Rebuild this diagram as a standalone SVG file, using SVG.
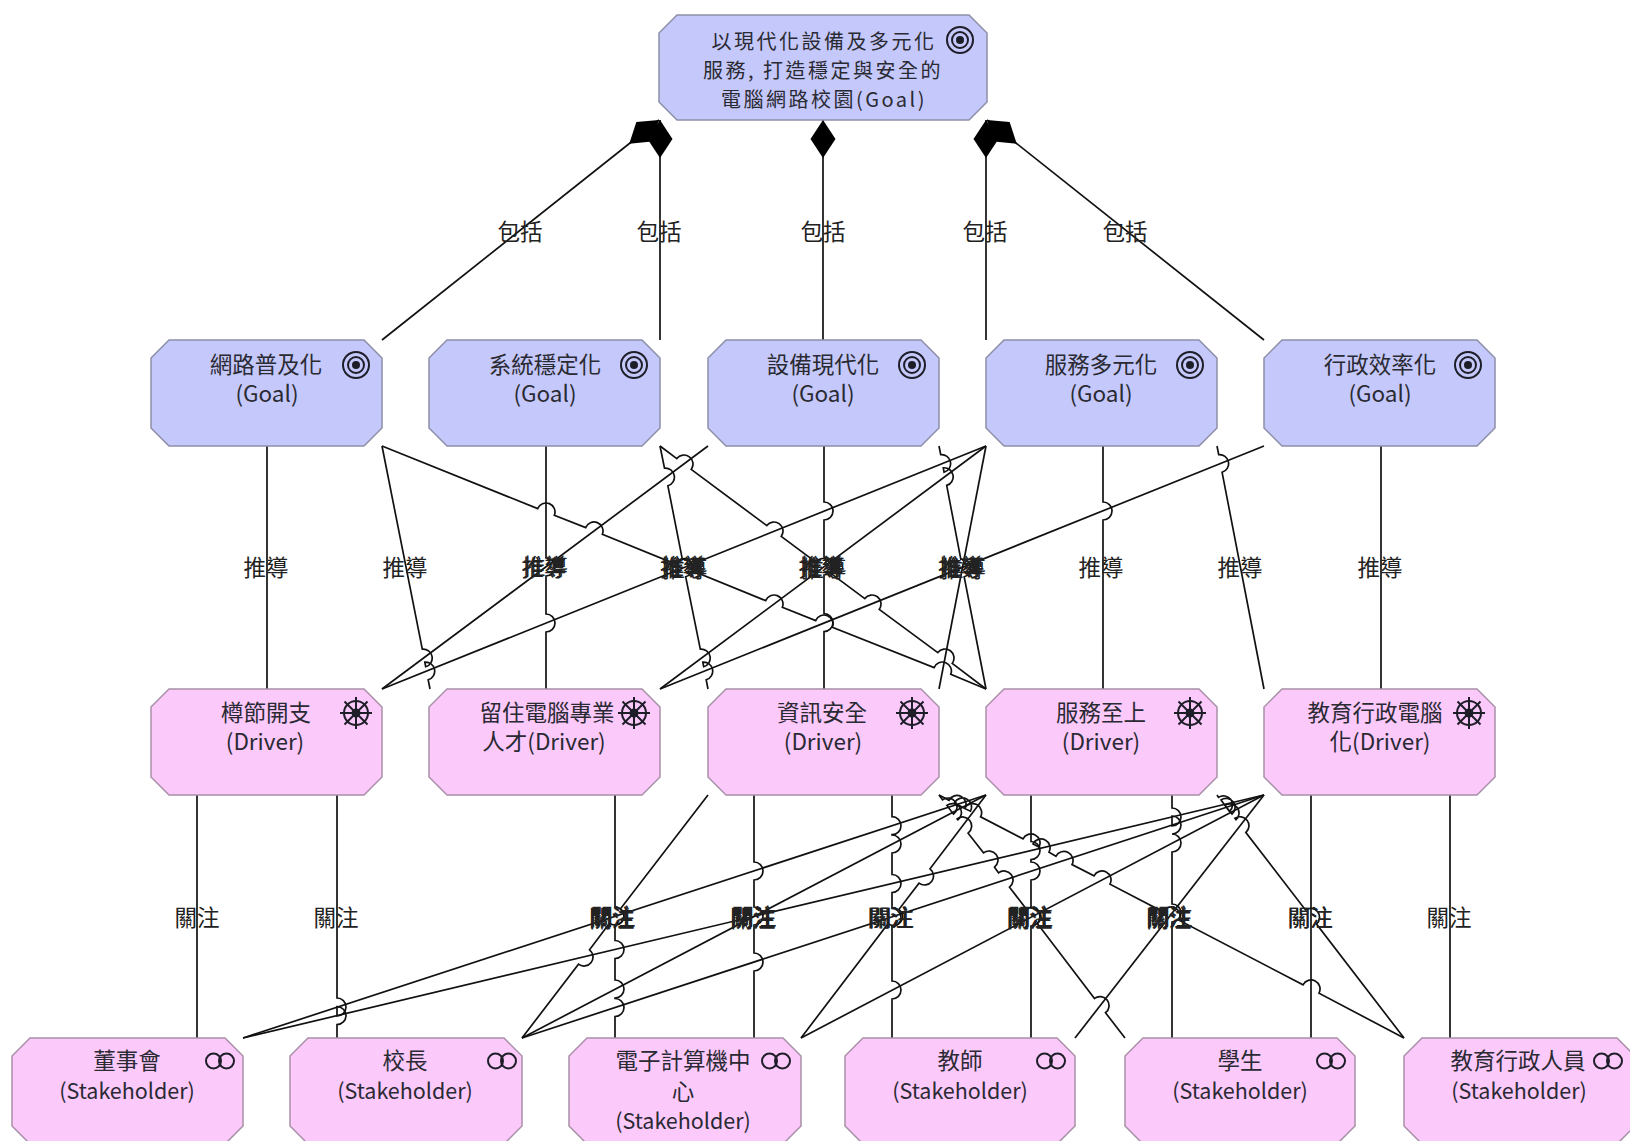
<svg xmlns="http://www.w3.org/2000/svg" width="1630" height="1141" viewBox="0 0 1630 1141">
<style>
.goal{fill:#c5c8fa;stroke:#8d8fa8;stroke-width:1.5}
.drv{fill:#fcc9fb;stroke:#a890a8;stroke-width:1.5}
.t{font-family:"Noto Sans CJK TC","Liberation Sans",sans-serif;font-size:22.5px;fill:#2a2a33;text-anchor:middle}
.s{font-size:21.5px}
.h{font-size:20px;letter-spacing:2.5px}
.l{font-family:"Noto Sans CJK TC","Liberation Sans",sans-serif;font-size:22.5px;fill:#222;text-anchor:middle}
.c{fill:none;stroke:#111;stroke-width:1.7}
.comp{marker-start:url(#dia)}
.i{fill:none;stroke:#1e1e28;stroke-width:2}
.d{fill:#1e1e28;stroke:none}
</style>
<defs>
<marker id="dia" markerUnits="userSpaceOnUse" markerWidth="40" markerHeight="27" refX="0" refY="13" orient="auto" overflow="visible"><path d="M0 13L19 .5L38 13L19 25.5Z" fill="#000"/></marker>
<g id="gi"><circle class="i" r="13"/><circle class="i" r="8"/><circle class="d" r="4"/></g>
<g id="wi"><circle class="i" r="12"/><circle class="d" r="4.5"/><path class="i" d="M0-16V16M-16 0H16M-11.5-11.5L11.5 11.5M-11.5 11.5L11.5-11.5"/></g>
<g id="si"><circle class="i" r="7.5" cx="-6.5"/><circle class="i" r="7.5" cx="6.5"/></g>
</defs>
<rect width="1630" height="1141" fill="#fff"/>
<g id="connectors">
<path class="c comp" d="M659 120L382 340"/>
<path class="c comp" d="M660 120V340"/>
<path class="c comp" d="M823 120V340"/>
<path class="c comp" d="M986 120V340"/>
<path class="c comp" d="M987 120L1264 340"/>
<text class="l" x="520" y="240">包括</text><text class="l" x="659" y="240">包括</text><text class="l" x="823" y="240">包括</text><text class="l" x="985" y="240">包括</text><text class="l" x="1125" y="240">包括</text>

<path class="c" d="M267 446V689"/>
<path class="c" d="M546 446V558A9 9 0 0 1 546 576V614A9 9 0 0 1 546 632V689"/>
<path class="c" d="M824 446V502A9 9 0 0 1 824 520V557A9 9 0 0 1 824 575V613.6A9 9 0 0 1 824 631.6V689"/>
<path class="c" d="M1103 446V502A9 9 0 0 1 1103 520V689"/>
<path class="c" d="M1381 446V689"/>
<path class="c" d="M382 446L422.3 649.2A9 9 0 0 1 425.7 666.8L424.8 662.2A9 9 0 0 1 428.2 679.8L430 689"/>
<path class="c" d="M382 446L537.65 508.64A9 9 0 0 1 554.35 515.36L585.65 527.64A9 9 0 0 1 602.35 534.36L675.65 564.14A9 9 0 0 1 692.35 570.86L765.65 600.64A9 9 0 0 1 782.35 607.36L815.65 620.64A9 9 0 0 1 832.35 627.36L934.05 667.64A9 9 0 0 1 950.75 674.36L986 689"/>
<path class="c" d="M660 446L664.5 468.2A9 9 0 0 1 667.9 485.8L682.3 559.2A9 9 0 0 1 685.7 576.8L700.3 649.2A9 9 0 0 1 703.7 666.8L702.8 662.2A9 9 0 0 1 706.2 679.8L708 689"/>
<path class="c" d="M660 446L676.8 458.6A9 9 0 0 1 691.2 469.4L766.8 525.6A9 9 0 0 1 781.2 536.4L815.8 562.1A9 9 0 0 1 830.2 572.9L864.8 598.6A9 9 0 0 1 879.2 609.4L937.8 652.6A9 9 0 0 1 952.2 663.4L986 689"/>
<path class="c" d="M708 446L382 689"/>
<path class="c" d="M939 446L940.7 454.7A9 9 0 0 1 944.1 472.3L943.3 467.8A9 9 0 0 1 946.7 485.4L960.8 559.2A9 9 0 0 1 964.2 576.8L986 689"/>
<path class="c" d="M986 446L382 689"/>
<path class="c" d="M986 446L660 689"/>
<path class="c" d="M986 446L939 689"/>
<path class="c" d="M1264 446L660 689"/>
<path class="c" d="M1217 446L1218.7 454.7A9 9 0 0 1 1222.1 472.3L1264 689"/>
<text class="l" x="266" y="576">推導</text><text class="l" x="405" y="576">推導</text>
<text class="l" x="544" y="576">推導</text><text class="l" x="545.5" y="575">推導</text>
<text class="l" x="682.5" y="576">推導</text><text class="l" x="684" y="575">推導</text><text class="l" x="685" y="576.5">推導</text>
<text class="l" x="821" y="576">推導</text><text class="l" x="822.5" y="575">推導</text><text class="l" x="824" y="576.5">推導</text>
<text class="l" x="960.5" y="576">推導</text><text class="l" x="962" y="575">推導</text><text class="l" x="963.5" y="576.5">推導</text>
<text class="l" x="1101" y="576">推導</text><text class="l" x="1240" y="576">推導</text><text class="l" x="1380" y="576">推導</text>

<path class="c" d="M197 795V1038"/>
<path class="c" d="M337 795V998A9 9 0 0 1 337 1016V1006.6A9 9 0 0 1 337 1024.6V1038"/>
<path class="c" d="M615 795V907A9 9 0 0 1 615 925V940.5A9 9 0 0 1 615 958.5V980A9 9 0 0 1 615 998V998.5A9 9 0 0 1 615 1016.5V1038"/>
<path class="c" d="M754 795V862A9 9 0 0 1 754 880V907A9 9 0 0 1 754 925V953A9 9 0 0 1 754 971V1038"/>
<path class="c" d="M892 795V816.7A9 9 0 0 1 892 834.7V835A9 9 0 0 1 892 853V874.5A9 9 0 0 1 892 892.5V908.5A9 9 0 0 1 892 926.5V981A9 9 0 0 1 892 999V1038"/>
<path class="c" d="M1031 795V841.5A9 9 0 0 1 1031 859.5V862A9 9 0 0 1 1031 880V908A9 9 0 0 1 1031 926V1038"/>
<path class="c" d="M1172 795V808A9 9 0 0 1 1172 826V816A9 9 0 0 1 1172 834V834A9 9 0 0 1 1172 852V904A9 9 0 0 1 1172 922V1038"/>
<path class="c" d="M1311 795V1038"/>
<path class="c" d="M1450 795V1038"/>
<path class="c" d="M986 795L243 1038"/>
<path class="c" d="M1264 795L243 1038"/>
<path class="c" d="M708 795L620.5 908.85A9 9 0 0 1 609.5 923.15L589.5 949.85A9 9 0 0 1 578.5 964.15L522 1038"/>
<path class="c" d="M986 795L522 1038"/>
<path class="c" d="M1264 795L522 1038"/>
<path class="c" d="M986 795L930 868.85A9 9 0 0 1 919 883.15L899 909.35A9 9 0 0 1 888 923.65L801 1038"/>
<path class="c" d="M1264 795L801 1038"/>
<path class="c" d="M1264 795L1075 1038"/>
<path class="c" d="M939 795L942.5 799.85A9 9 0 0 1 953.5 814.15L946.9 805.45A9 9 0 0 1 957.9 819.75L957.1 818.85A9 9 0 0 1 968.1 833.15L983.5 852.85A9 9 0 0 1 994.5 867.15L998.5 872.85A9 9 0 0 1 1009.5 887.15L1026.5 909.35A9 9 0 0 1 1037.5 923.65L1094.5 998.45A9 9 0 0 1 1105.5 1012.75L1125 1038"/>
<path class="c" d="M939 795L949 800.3A9 9 0 0 1 965 808.7L954.5 802.8A9 9 0 0 1 970.5 811.2L964.6 808.4A9 9 0 0 1 980.6 816.8L1023 838.8A9 9 0 0 1 1039 847.2L1033 843.8A9 9 0 0 1 1049 852.2L1056 856.2A9 9 0 0 1 1072 864.6L1094 875.8A9 9 0 0 1 1110 884.2L1163 911.8A9 9 0 0 1 1179 920.2L1303 984.8A9 9 0 0 1 1319 993.2L1404 1038"/>
<path class="c" d="M1217 795L1218.5 797.4A9 9 0 0 1 1229.5 811.6L1221 799.9A9 9 0 0 1 1232 814.1L1225 805.5A9 9 0 0 1 1236 819.7L1234.9 818.3A9 9 0 0 1 1245.9 832.5L1305.5 909.9A9 9 0 0 1 1316.5 924.1L1404 1038"/>
<text class="l" x="197" y="926">關注</text><text class="l" x="336" y="926">關注</text>
<text class="l" x="611.5" y="926">關注</text><text class="l" x="613" y="925">關注</text><text class="l" x="612" y="926.5">關注</text>
<text class="l" x="752.5" y="926">關注</text><text class="l" x="754" y="925">關注</text><text class="l" x="753" y="926.5">關注</text>
<text class="l" x="890" y="926">關注</text><text class="l" x="891" y="925.5">關注</text><text class="l" x="891.5" y="926">關注</text>
<text class="l" x="1029" y="926">關注</text><text class="l" x="1030.5" y="925">關注</text><text class="l" x="1030" y="926.5">關注</text>
<text class="l" x="1168.5" y="926">關注</text><text class="l" x="1170" y="925">關注</text><text class="l" x="1169" y="926.5">關注</text>
<text class="l" x="1310" y="926">關注</text><text class="l" x="1310.5" y="926">關注</text>
<text class="l" x="1449" y="926">關注</text>
</g>

<g id="g0"><polygon class="goal" points="677,15 969,15 987,33 987,102 969,120 677,120 659,102 659,33"/><text class="t h" x="824" y="49">以現代化設備及多元化</text><text class="t h" x="823" y="78">服務, 打造穩定與安全的</text><text class="t h" x="824" y="107">電腦網路校園(Goal)</text><use href="#gi" x="960" y="40"/></g>

<g id="g1"><polygon class="goal" points="169,340 364,340 382,358 382,428 364,446 169,446 151,428 151,358"/><text class="t" x="266" y="373">網路普及化</text><text class="t" x="267" y="402">(Goal)</text><use href="#gi" x="356" y="365"/></g>
<g id="g2"><polygon class="goal" points="447,340 642,340 660,358 660,428 642,446 447,446 429,428 429,358"/><text class="t" x="545" y="373">系統穩定化</text><text class="t" x="545" y="402">(Goal)</text><use href="#gi" x="634" y="365"/></g>
<g id="g3"><polygon class="goal" points="726,340 921,340 939,358 939,428 921,446 726,446 708,428 708,358"/><text class="t" x="823" y="373">設備現代化</text><text class="t" x="823" y="402">(Goal)</text><use href="#gi" x="912" y="365"/></g>
<g id="g4"><polygon class="goal" points="1004,340 1199,340 1217,358 1217,428 1199,446 1004,446 986,428 986,358"/><text class="t" x="1101" y="373">服務多元化</text><text class="t" x="1101" y="402">(Goal)</text><use href="#gi" x="1190" y="365"/></g>
<g id="g5"><polygon class="goal" points="1282,340 1477,340 1495,358 1495,428 1477,446 1282,446 1264,428 1264,358"/><text class="t" x="1380" y="373">行政效率化</text><text class="t" x="1380" y="402">(Goal)</text><use href="#gi" x="1468" y="365"/></g>

<g id="d1"><polygon class="drv" points="169,689 364,689 382,707 382,777 364,795 169,795 151,777 151,707"/><text class="t" x="266" y="721">樽節開支</text><text class="t" x="265" y="750">(Driver)</text><use href="#wi" x="356" y="713"/></g>
<g id="d2"><polygon class="drv" points="447,689 642,689 660,707 660,777 642,795 447,795 429,777 429,707"/><text class="t" x="547" y="721">留住電腦專業</text><text class="t" x="544" y="750">人才(Driver)</text><use href="#wi" x="634" y="713"/></g>
<g id="d3"><polygon class="drv" points="726,689 921,689 939,707 939,777 921,795 726,795 708,777 708,707"/><text class="t" x="822" y="721">資訊安全</text><text class="t" x="823" y="750">(Driver)</text><use href="#wi" x="912" y="713"/></g>
<g id="d4"><polygon class="drv" points="1004,689 1199,689 1217,707 1217,777 1199,795 1004,795 986,777 986,707"/><text class="t" x="1101" y="721">服務至上</text><text class="t" x="1101" y="750">(Driver)</text><use href="#wi" x="1190" y="713"/></g>
<g id="d5"><polygon class="drv" points="1282,689 1477,689 1495,707 1495,777 1477,795 1282,795 1264,777 1264,707"/><text class="t" x="1375" y="721">教育行政電腦</text><text class="t" x="1380" y="750">化(Driver)</text><use href="#wi" x="1469" y="713"/></g>

<g id="s1"><polygon class="drv" points="30,1038 225,1038 243,1056 243,1126 225,1144 30,1144 12,1126 12,1056"/><text class="t" x="127" y="1069">董事會</text><text class="t s" x="127" y="1099">(Stakeholder)</text><use href="#si" x="220" y="1061"/></g>
<g id="s2"><polygon class="drv" points="308,1038 504,1038 522,1056 522,1126 504,1144 308,1144 290,1126 290,1056"/><text class="t" x="405" y="1069">校長</text><text class="t s" x="405" y="1099">(Stakeholder)</text><use href="#si" x="502" y="1061"/></g>
<g id="s3"><polygon class="drv" points="587,1038 783,1038 801,1056 801,1126 783,1144 587,1144 569,1126 569,1056"/><text class="t" x="683" y="1069">電子計算機中</text><text class="t" x="683" y="1100">心</text><text class="t s" x="683" y="1129">(Stakeholder)</text><use href="#si" x="776" y="1061"/></g>
<g id="s4"><polygon class="drv" points="863,1038 1057,1038 1075,1056 1075,1126 1057,1144 863,1144 845,1126 845,1056"/><text class="t" x="960" y="1069">教師</text><text class="t s" x="960" y="1099">(Stakeholder)</text><use href="#si" x="1051" y="1061"/></g>
<g id="s5"><polygon class="drv" points="1143,1038 1337,1038 1355,1056 1355,1126 1337,1144 1143,1144 1125,1126 1125,1056"/><text class="t" x="1240" y="1069">學生</text><text class="t s" x="1240" y="1099">(Stakeholder)</text><use href="#si" x="1331" y="1061"/></g>
<g id="s6"><polygon class="drv" points="1422,1038 1617,1038 1635,1056 1635,1126 1617,1144 1422,1144 1404,1126 1404,1056"/><text class="t" x="1518" y="1069">教育行政人員</text><text class="t s" x="1519" y="1099">(Stakeholder)</text><use href="#si" x="1608" y="1061"/></g>
</svg>
